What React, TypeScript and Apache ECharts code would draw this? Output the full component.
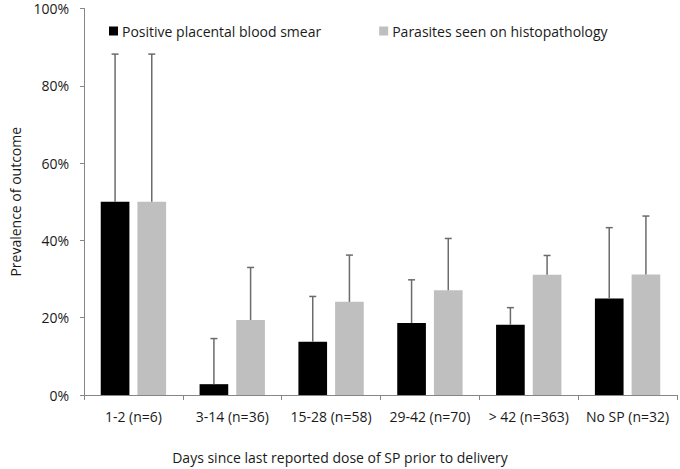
import React, { useEffect, useRef } from "react";
import * as echarts from "echarts";

const categories = ["1-2 (n=6)", "3-14 (n=36)", "15-28 (n=58)", "29-42 (n=70)", "> 42 (n=363)", "No SP (n=32)"];
const smearValues = [50, 2.8, 13.8, 18.6, 18.2, 25];
const smearUpper = [88.2, 14.6, 25.5, 29.8, 22.6, 43.3];
const histoValues = [50, 19.4, 24.1, 27.1, 31.1, 31.2];
const histoUpper = [88.2, 33.0, 36.2, 40.5, 36.1, 46.3];
const yTicks = [0, 20, 40, 60, 80, 100];

const FONT = "'Open Sans', sans-serif";
const BAR_W = 0.29;
const GAP = 0.28;

function errorSeries(name: string, values: number[], upper: number[], side: number) {
  return {
    type: "custom",
    name: name + " error",
    z: 5,
    silent: true,
    data: values.map((v, i) => [i, v, upper[i]]),
    encode: { x: 0, y: [1, 2] },
    renderItem: (params: any, api: any) => {
      const idx = api.value(0);
      const bw = api.size([1, 0])[0];
      const off = side * (bw * BAR_W * (1 + GAP)) / 2;
      const p0 = api.coord([idx, api.value(1)]);
      const p1 = api.coord([idx, api.value(2)]);
      const x = p0[0] + off;
      const cap = 3.5;
      const style = { stroke: "#6b6b6b", lineWidth: 1.5 };
      return {
        type: "group",
        children: [
          { type: "line", shape: { x1: x, y1: p0[1], x2: x, y2: p1[1] }, style },
          { type: "line", shape: { x1: x - cap, y1: p1[1], x2: x + cap, y2: p1[1] }, style },
        ],
      };
    },
  };
}

export default function App() {
  const ref = useRef<HTMLDivElement>(null);
  useEffect(() => {
    if (!ref.current) return;
    const chart = echarts.init(ref.current, undefined, { renderer: "svg" });
    chart.setOption({
      animation: false,
      grid: { left: 72, right: 3, top: 8.5, bottom: 72.5, containLabel: false },
      legend: {
        left: 109,
        top: 24,
        padding: 0,
        itemWidth: 9,
        itemHeight: 9,
        itemGap: 58,
        icon: "rect",
        textStyle: { fontFamily: FONT, fontSize: 14, color: "#1a1a1a", padding: [0, 0, 0, -1] },
        data: ["Positive placental blood smear", "Parasites seen on histopathology"],
      },
      xAxis: {
        type: "category",
        data: categories,
        name: "Days since last reported dose of SP prior to delivery",
        nameLocation: "middle",
        nameGap: 55,
        nameTextStyle: { fontFamily: FONT, fontSize: 14, color: "#1a1a1a", padding: [0, 81, 0, 0] },
        axisLine: { lineStyle: { color: "#868686", width: 1 } },
        axisTick: { show: true, length: 5, alignWithLabel: false, lineStyle: { color: "#868686" } },
        axisLabel: { fontFamily: FONT, fontSize: 14, color: "#1a1a1a", margin: 14, interval: 0 },
      },
      yAxis: {
        type: "value",
        min: 0,
        max: 100,
        interval: 20,
        name: "Prevalence of outcome",
        nameLocation: "middle",
        nameGap: 62,
        nameTextStyle: { fontFamily: FONT, fontSize: 14, color: "#1a1a1a" },
        axisLine: { show: true, lineStyle: { color: "#868686", width: 1 } },
        axisTick: { show: true, length: 4, lineStyle: { color: "#868686" } },
        splitLine: { show: false },
        axisLabel: {
          fontFamily: FONT,
          fontSize: 14,
          color: "#1a1a1a",
          margin: 15,
          formatter: (v: number) => (yTicks.includes(v) ? v + "%" : ""),
        },
      },
      series: [
        {
          type: "bar",
          name: "Positive placental blood smear",
          data: smearValues,
          barWidth: BAR_W * 100 + "%",
          barGap: GAP * 100 + "%",
          itemStyle: { color: "#000000" },
        },
        {
          type: "bar",
          name: "Parasites seen on histopathology",
          data: histoValues,
          barWidth: BAR_W * 100 + "%",
          itemStyle: { color: "#bfbfbf" },
        },
        errorSeries("Positive placental blood smear", smearValues, smearUpper, -1),
        errorSeries("Parasites seen on histopathology", histoValues, histoUpper, 1),
      ],
    });
    return () => chart.dispose();
  }, []);
  return <div ref={ref} style={{ position: "absolute", left: 0, top: 0, width: 680, height: 469 }} />;
}
